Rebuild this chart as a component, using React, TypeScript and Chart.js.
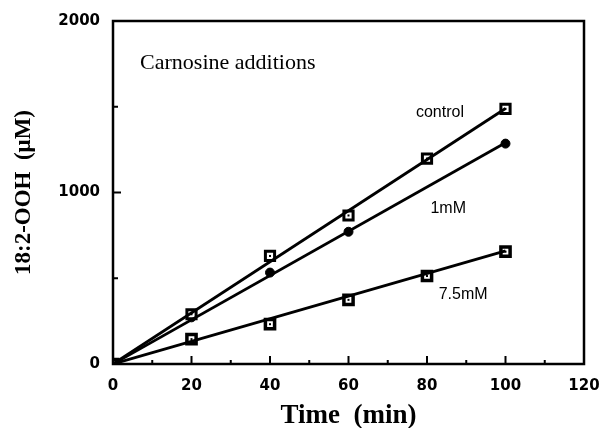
import { useEffect, useRef } from 'react';
import { Chart, registerables } from 'chart.js';
Chart.register(...registerables);

const timesControl = [0, 20, 40, 60, 80, 100];
const controlValues = [0, 290, 630, 866, 1198, 1488];
const times1mM = [0, 20, 40, 60, 100];
const values1mM = [0, 272, 533, 771, 1285];
const times75mM = [0, 20, 40, 60, 80, 100];
const values75mM = [0, 145, 232, 374, 513, 655];
const fitTimes = [0, 100];
const fitControl = [0, 1490];
const fit1mM = [0, 1290];
const fit75mM = [0, 660];
const xTicks = [0, 20, 40, 60, 80, 100, 120];
const yTicks = [0, 1000, 2000];

const pts = (xs: number[], ys: number[]) => xs.map((x, i) => ({ x, y: ys[i] }));

const framePlugin = {
  id: 'frame',
  afterDraw(chart: any) {
    const ctx = chart.ctx;
    const { left, right, top, bottom } = chart.chartArea;
    const xs = chart.scales.x;
    const ys = chart.scales.y;
    ctx.save();
    ctx.strokeStyle = '#000';
    ctx.lineWidth = 2.5;
    ctx.strokeRect(left, top, right - left, bottom - top);
    ctx.lineWidth = 2;
    ctx.beginPath();
    for (let v = 10; v < 120; v += 10) {
      const px = xs.getPixelForValue(v);
      const len = v % 20 === 0 ? 8 : 4;
      ctx.moveTo(px, bottom);
      ctx.lineTo(px, bottom - len);
    }
    for (let v = 500; v < 2000; v += 500) {
      const py = ys.getPixelForValue(v);
      const len = v % 1000 === 0 ? 8 : 5;
      ctx.moveTo(left, py);
      ctx.lineTo(left + len, py);
    }
    ctx.stroke();
    // small centre dots in the square markers
    ctx.fillStyle = '#000';
    [3, 5].forEach((i) => {
      chart.getDatasetMeta(i).data.forEach((el: any) => {
        ctx.fillRect(el.x - 1, el.y - 1, 2, 2);
      });
    });
    ctx.textBaseline = 'middle';
    ctx.textAlign = 'left';
    ctx.font = '22px "Liberation Serif"';
    ctx.fillText('Carnosine additions', xs.getPixelForValue(6.9), ys.getPixelForValue(1756));
    ctx.textAlign = 'center';
    ctx.font = '16px "Liberation Sans"';
    ctx.fillText('control', xs.getPixelForValue(83.3), ys.getPixelForValue(1465));
    ctx.fillText('1mM', xs.getPixelForValue(85.4), ys.getPixelForValue(907));
    ctx.fillText('7.5mM', xs.getPixelForValue(89.2), ys.getPixelForValue(407));
    ctx.restore();
  },
};

export default function App() {
  const ref = useRef<HTMLCanvasElement>(null);
  useEffect(() => {
    if (!ref.current) return;
    const chart = new Chart(ref.current, {
      type: 'scatter',
      data: {
        datasets: [
          { data: pts(fitTimes, fitControl), showLine: true, borderColor: '#000', borderWidth: 2.8, pointRadius: 0 },
          { data: pts(fitTimes, fit1mM), showLine: true, borderColor: '#000', borderWidth: 2.8, pointRadius: 0 },
          { data: pts(fitTimes, fit75mM), showLine: true, borderColor: '#000', borderWidth: 2.8, pointRadius: 0 },
          { data: pts(timesControl, controlValues), pointStyle: 'rect', pointRadius: 6.5, backgroundColor: '#fff', borderColor: '#000', borderWidth: 3 },
          { data: pts(times1mM, values1mM), pointStyle: 'circle', pointRadius: 4.5, backgroundColor: '#000', borderColor: '#000', borderWidth: 1 },
          { data: pts(times75mM, values75mM), pointStyle: 'rect', pointRadius: 6.5, backgroundColor: '#fff', borderColor: '#000', borderWidth: 3.5 },
        ] as any,
      },
      options: {
        animation: false,
        responsive: false,
        layout: { padding: { top: 21, right: 16, left: 0, bottom: 0 } },
        plugins: { legend: { display: false }, tooltip: { enabled: false } },
        scales: {
          x: {
            type: 'linear',
            min: 0,
            max: 120,
            afterBuildTicks: (s: any) => { s.ticks = xTicks.map((v) => ({ value: v })); },
            afterFit: (s: any) => { s.height = 64; s.paddingLeft = 0; s.paddingRight = 0; },
            ticks: { color: '#000', font: { family: 'DejaVu Sans', size: 15, weight: 'bold' }, padding: 13, callback: (v: any) => String(v) },
            grid: { display: false, drawTicks: false },
            border: { display: false },
            title: { display: true, text: 'Time  (min)', color: '#000', font: { family: 'Liberation Serif', size: 27, weight: 'bold' }, padding: { top: 0, bottom: -4 } },
          },
          y: {
            type: 'linear',
            min: 0,
            max: 2000,
            afterBuildTicks: (s: any) => { s.ticks = yTicks.map((v) => ({ value: v })); },
            afterFit: (s: any) => { s.width = 113; s.paddingTop = 0; s.paddingBottom = 0; },
            ticks: { color: '#000', font: { family: 'DejaVu Sans', size: 15, weight: 'bold' }, padding: 13, callback: (v: any) => String(v) },
            grid: { display: false, drawTicks: false },
            border: { display: false },
            title: { display: true, text: '18:2-OOH  (μM)', color: '#000', font: { family: 'Liberation Serif', size: 23, weight: 'bold' }, padding: { top: 10, bottom: 0 } },
          },
        },
      } as any,
      plugins: [framePlugin],
    });
    return () => chart.destroy();
  }, []);
  return (
    <div style={{ position: 'absolute', left: 0, top: 0, width: 600, height: 428, background: '#fff' }}>
      <canvas ref={ref} width={600} height={428} style={{ display: 'block', width: 600, height: 428 }} />
    </div>
  );
}
